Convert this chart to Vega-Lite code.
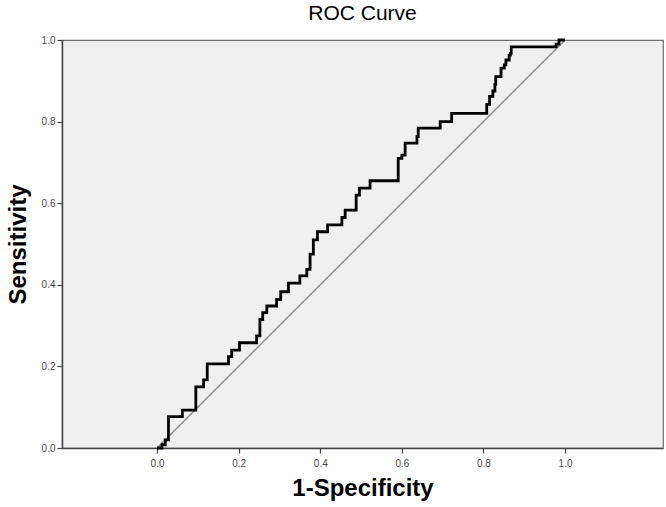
{
  "$schema": "https://vega.github.io/schema/vega-lite/v6.json",
  "autosize": "none",
  "width": 601,
  "height": 408,
  "padding": {"left": 62, "top": 40, "right": 3, "bottom": 59},
  "background": "#ffffff",
  "config": {
    "font": "Liberation Sans",
    "view": {"fill": "#f0f0f0", "stroke": "#6e6e6e", "strokeWidth": 1.2},
    "axis": {
      "grid": false,
      "domainColor": "#444444",
      "domainWidth": 1.5,
      "tickColor": "#444444",
      "tickWidth": 1.2,
      "tickSize": 5,
      "labelColor": "#4a4a4a",
      "labelFont": "Liberation Sans",
      "labelFontSize": 10,
      "titleFont": "Liberation Sans",
      "titleFontSize": 24,
      "titleFontWeight": "bold",
      "titleColor": "#000000"
    }
  },
  "title": {
    "text": "ROC Curve",
    "fontSize": 21,
    "fontWeight": "normal",
    "font": "Liberation Sans",
    "color": "#000000",
    "anchor": "middle",
    "offset": 10
  },
  "datasets": {
    "roc": [
      {"fpr": 0.0, "tpr": 0.0},
      {"fpr": 0.012, "tpr": 0.008},
      {"fpr": 0.02, "tpr": 0.02},
      {"fpr": 0.028, "tpr": 0.077},
      {"fpr": 0.062, "tpr": 0.093},
      {"fpr": 0.095, "tpr": 0.15},
      {"fpr": 0.114, "tpr": 0.167},
      {"fpr": 0.123, "tpr": 0.206},
      {"fpr": 0.175, "tpr": 0.224},
      {"fpr": 0.183, "tpr": 0.24},
      {"fpr": 0.202, "tpr": 0.258},
      {"fpr": 0.244, "tpr": 0.275},
      {"fpr": 0.252, "tpr": 0.315},
      {"fpr": 0.259, "tpr": 0.332},
      {"fpr": 0.269, "tpr": 0.348},
      {"fpr": 0.293, "tpr": 0.364},
      {"fpr": 0.303, "tpr": 0.383},
      {"fpr": 0.322, "tpr": 0.404},
      {"fpr": 0.35, "tpr": 0.422},
      {"fpr": 0.367, "tpr": 0.438},
      {"fpr": 0.375, "tpr": 0.475},
      {"fpr": 0.383, "tpr": 0.51},
      {"fpr": 0.393, "tpr": 0.53},
      {"fpr": 0.418, "tpr": 0.547},
      {"fpr": 0.453, "tpr": 0.565},
      {"fpr": 0.461, "tpr": 0.583},
      {"fpr": 0.488, "tpr": 0.62},
      {"fpr": 0.496, "tpr": 0.637},
      {"fpr": 0.522, "tpr": 0.655},
      {"fpr": 0.591, "tpr": 0.71},
      {"fpr": 0.6, "tpr": 0.718},
      {"fpr": 0.608, "tpr": 0.747},
      {"fpr": 0.637, "tpr": 0.763},
      {"fpr": 0.64, "tpr": 0.784},
      {"fpr": 0.694, "tpr": 0.8},
      {"fpr": 0.722, "tpr": 0.82},
      {"fpr": 0.808, "tpr": 0.842},
      {"fpr": 0.815, "tpr": 0.862},
      {"fpr": 0.823, "tpr": 0.875},
      {"fpr": 0.828, "tpr": 0.891},
      {"fpr": 0.83, "tpr": 0.91},
      {"fpr": 0.843, "tpr": 0.931},
      {"fpr": 0.851, "tpr": 0.939},
      {"fpr": 0.855, "tpr": 0.951},
      {"fpr": 0.863, "tpr": 0.963},
      {"fpr": 0.866, "tpr": 0.967},
      {"fpr": 0.868, "tpr": 0.983},
      {"fpr": 0.978, "tpr": 0.99},
      {"fpr": 0.985, "tpr": 1.0},
      {"fpr": 1.0, "tpr": 1.0}
    ],
    "diag": [
      {"fpr": 0.0, "tpr": 0.0},
      {"fpr": 1.0, "tpr": 1.0}
    ]
  },
  "encoding": {
    "x": {
      "field": "fpr",
      "type": "quantitative",
      "scale": {"domain": [-0.233, 1.24], "nice": false, "zero": false},
      "axis": {
        "values": [0, 0.2, 0.4, 0.6, 0.8, 1.0],
        "format": ".1f",
        "title": "1-Specificity",
        "labelPadding": 5,
        "titlePadding": 8
      }
    },
    "y": {
      "field": "tpr",
      "type": "quantitative",
      "scale": {"domain": [0, 1], "nice": false},
      "axis": {
        "values": [0, 0.2, 0.4, 0.6, 0.8, 1.0],
        "format": ".1f",
        "title": "Sensitivity",
        "labelPadding": 2,
        "titlePadding": 11
      }
    }
  },
  "layer": [
    {
      "data": {"name": "diag"},
      "mark": {"type": "line", "color": "#8c8c8c", "strokeWidth": 1.4}
    },
    {
      "data": {"name": "roc"},
      "mark": {"type": "line", "color": "#000000", "strokeWidth": 2.8, "interpolate": "step-after", "strokeJoin": "miter"}
    }
  ]
}
